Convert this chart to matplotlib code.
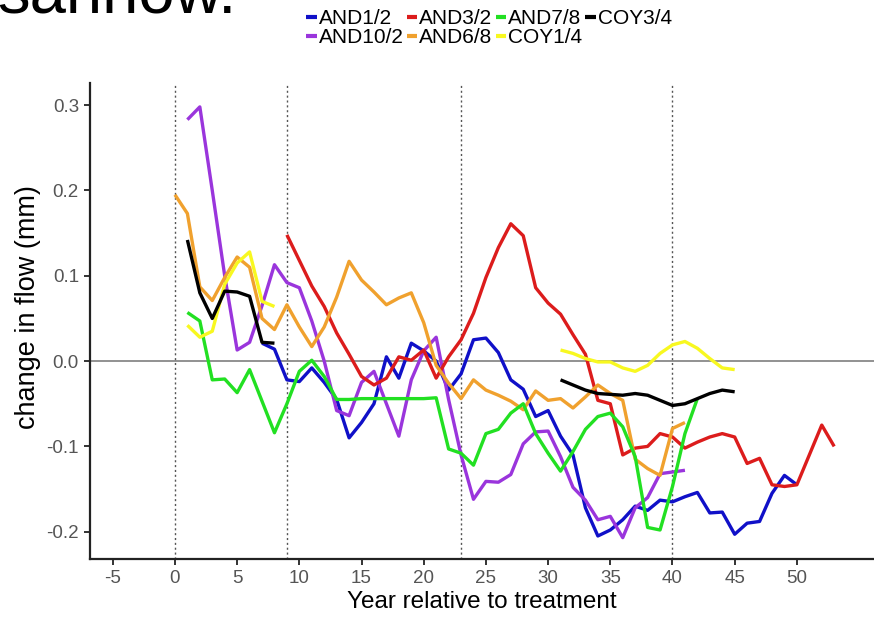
import numpy as np
import matplotlib
matplotlib.use("Agg")
import matplotlib.pyplot as plt

plt.rcParams['font.family'] = ['Liberation Sans', 'DejaVu Sans']
plt.rcParams['axes.unicode_minus'] = False

nan = np.nan

# values, one per year
and12_years = list(range(7, 51))
and12 = [0.021, 0.014, -0.022, -0.024, -0.008, -0.025, -0.045, -0.09, -0.072, -0.05,
         0.005, -0.02, 0.021, 0.012, 0.0, -0.034, -0.015, 0.025, 0.027, 0.01,
         -0.022, -0.033, -0.065, -0.058, -0.088, -0.11, -0.172, -0.205, -0.198, -0.186,
         -0.17, -0.175, -0.163, -0.165, -0.159, -0.154, -0.178, -0.177, -0.203, -0.19,
         -0.188, -0.155, -0.134, -0.145]

and102_years = list(range(1, 42))
and102 = [0.283, 0.298, 0.20, 0.10, 0.013, 0.022, 0.065, 0.113, 0.092, 0.086,
          0.047, 0.0, -0.058, -0.064, -0.025, -0.012, -0.05, -0.088, -0.022, 0.012,
          0.028, -0.045, -0.11, -0.162, -0.141, -0.142, -0.133, -0.097, -0.083, -0.082,
          -0.112, -0.148, -0.163, -0.186, -0.182, -0.207, -0.172, -0.160, -0.132, -0.130,
          -0.128]

and32_years = list(range(9, 54))
and32 = [0.148, 0.118, 0.088, 0.064, 0.033, 0.008, -0.018, -0.028, -0.02, 0.005,
         0.001, 0.013, -0.02, 0.005, 0.025, 0.056, 0.098, 0.133, 0.161, 0.147,
         0.086, 0.068, 0.055, 0.031, 0.008, -0.046, -0.05, -0.11, -0.102, -0.1,
         -0.085, -0.089, -0.102, -0.095, -0.089, -0.085, -0.089, -0.12, -0.114, -0.145,
         -0.147, -0.145, -0.11, -0.075, -0.1]

and68_years = list(range(0, 42))
and68 = [0.195, 0.173, 0.087, 0.071, 0.098, 0.122, 0.11, 0.05, 0.037, 0.066,
         0.04, 0.017, 0.04, 0.075, 0.117, 0.095, 0.081, 0.066, 0.074, 0.08,
         0.045, -0.005, -0.026, -0.044, -0.022, -0.034, -0.04, -0.047, -0.057, -0.035,
         -0.046, -0.044, -0.055, -0.042, -0.028, -0.038, -0.046, -0.115, -0.126, -0.134,
         -0.079, -0.072]

and78_years = list(range(1, 43))
and78 = [0.057, 0.047, -0.022, -0.021, -0.037, -0.01, -0.047, -0.084, -0.05, -0.012,
         0.001, -0.018, -0.045, -0.045, -0.044, -0.044, -0.044, -0.044, -0.044, -0.044,
         -0.043, -0.103, -0.108, -0.122, -0.085, -0.08, -0.061, -0.05, -0.085, -0.108,
         -0.129, -0.106, -0.08, -0.065, -0.061, -0.077, -0.112, -0.195, -0.198, -0.147,
         -0.085, -0.044]

coy14_years = list(range(1, 46))
coy14 = [0.042, 0.028, 0.035, 0.09, 0.115, 0.128, 0.07, 0.064] + [nan] * 22 + \
        [0.013, 0.009, 0.003, -0.001, -0.001, -0.008, -0.012, -0.005, 0.009, 0.019,
         0.023, 0.015, 0.003, -0.008, -0.01]

coy34_years = list(range(1, 46))
coy34 = [0.142, 0.08, 0.05, 0.082, 0.081, 0.076, 0.022, 0.021] + [nan] * 22 + \
        [-0.022, -0.028, -0.034, -0.038, -0.039, -0.04, -0.038, -0.04, -0.046, -0.052,
         -0.05, -0.044, -0.038, -0.034, -0.036]

treatment_lines = [0, 9, 23, 40]

series = [
    ("AND1/2", and12_years, and12, "#1010c8"),
    ("AND10/2", and102_years, and102, "#9a35dc"),
    ("AND3/2", and32_years, and32, "#dc1c1c"),
    ("AND6/8", and68_years, and68, "#f0a12e"),
    ("AND7/8", and78_years, and78, "#22e022"),
    ("COY1/4", coy14_years, coy14, "#f8f820"),
    ("COY3/4", coy34_years, coy34, "#000000"),
]

fig = plt.figure(figsize=(8.74, 6.19), dpi=100)
ax = fig.add_axes([90 / 874, 60 / 619, 784 / 874, 476 / 619])

ax.axhline(0, color="#7f7f7f", lw=1.2, zorder=1)
for x in treatment_lines:
    ax.axvline(x, color="#555555", lw=1.0, ls=(0, (1.5, 2)), zorder=1)

for name, xs, ys, c in series:
    ax.plot(xs, ys, color=c, lw=2.4, label=name, solid_capstyle="butt", zorder=3)

ax.set_xlim(-6.83, 56.2)
ax.set_ylim(-0.232, 0.326)
ax.set_xticks([-5, 0, 5, 10, 15, 20, 25, 30, 35, 40, 45, 50])
ax.set_yticks([-0.2, -0.1, 0.0, 0.1, 0.2, 0.3])
ax.set_yticklabels(["-0.2", "-0.1", "0.0", "0.1", "0.2", "0.3"])

for s in ["top", "right"]:
    ax.spines[s].set_visible(False)
for s in ["left", "bottom"]:
    ax.spines[s].set_linewidth(1.6)
    ax.spines[s].set_color("#222222")
ax.tick_params(length=4, width=1.4, color="#333333", labelcolor="#555555",
               labelsize=13.5, pad=4)

ax.set_xlabel("Year relative to treatment", fontsize=17.5, labelpad=3)
ax.set_ylabel("change in flow (mm)", fontsize=19.5)
ax.yaxis.set_label_coords(-0.062, 0.53)

leg = fig.legend(loc="upper center", bbox_to_anchor=(489 / 874, 1.0 - 9 / 619), ncol=4,
                 frameon=False, fontsize=15, handlelength=0.5, handletextpad=0.1,
                 columnspacing=0.15, labelspacing=0.02, borderaxespad=0, borderpad=0)
for h in leg.legend_handles:
    h.set_linewidth(3)

# cut-off text left over from the page above the figure
fig.text(-0.003, 1 - 14 / 619, "sannow.", fontsize=47, va="baseline", ha="left")

fig.savefig("out.png", dpi=100)
